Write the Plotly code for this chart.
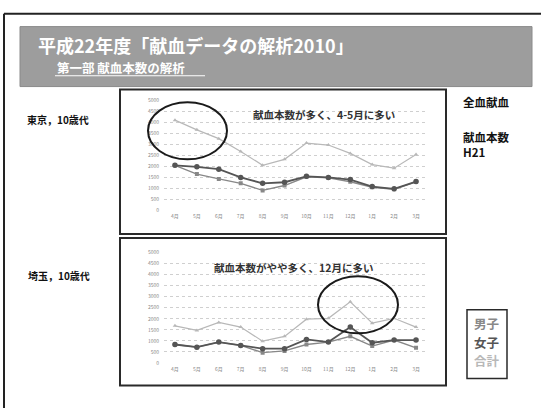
import plotly.graph_objects as go

W, H = 543, 411

months = ["4月", "5月", "6月", "7月", "8月", "9月", "10月", "11月", "12月", "1月", "2月", "3月"]
y_ticks = [0, 500, 1000, 1500, 2000, 2500, 3000, 3500, 4000, 4500, 5000]

# 東京, 10歳代
tokyo_male = [2050, 1650, 1430, 1230, 910, 1130, 1530, 1480, 1300, 1050, 960, 1300]
tokyo_female = [2050, 1980, 1875, 1500, 1230, 1280, 1550, 1500, 1400, 1085, 980, 1310]
tokyo_total = [4100, 3660, 3260, 2680, 2050, 2320, 3060, 2970, 2590, 2080, 1920, 2540]

# 埼玉, 10歳代
saitama_male = [830, 710, 940, 790, 460, 540, 830, 940, 1200, 760, 1030, 680]
saitama_female = [830, 710, 940, 790, 640, 640, 1060, 940, 1620, 910, 1030, 1030]
saitama_total = [1680, 1470, 1830, 1620, 980, 1200, 1980, 2020, 2770, 1800, 2020, 1620]

JP = "Noto Sans CJK JP"
C_MALE = "#888888"
C_FEMALE = "#555555"
C_TOTAL = "#b8b8b8"


def px(x):
    return x / W


def py(y):
    return 1 - y / H


fig = go.Figure()


def add_series(xa, ya, male, female, total):
    fig.add_trace(go.Scatter(x=months, y=total, xaxis=xa, yaxis=ya, mode="lines+markers",
                             line=dict(color=C_TOTAL, width=1.2),
                             marker=dict(symbol="triangle-up", size=4, color=C_TOTAL),
                             showlegend=False))
    fig.add_trace(go.Scatter(x=months, y=male, xaxis=xa, yaxis=ya, mode="lines+markers",
                             line=dict(color=C_MALE, width=1.4),
                             marker=dict(symbol="square", size=4, color=C_MALE),
                             showlegend=False))
    fig.add_trace(go.Scatter(x=months, y=female, xaxis=xa, yaxis=ya, mode="lines+markers",
                             line=dict(color=C_FEMALE, width=1.8),
                             marker=dict(symbol="circle", size=5.5, color=C_FEMALE),
                             showlegend=False))


add_series("x", "y", tokyo_male, tokyo_female, tokyo_total)
add_series("x2", "y2", saitama_male, saitama_female, saitama_total)

xdom = [px(164), px(427)]
yaxis_common = dict(range=[0, 5000], tickvals=y_ticks, showgrid=True, gridcolor="#cfcfcf",
                    griddash="dot", gridwidth=1, zeroline=False, showline=False, ticks="",
                    ticklabelstandoff=4, tickfont=dict(family=JP, size=5, color="#888888"),
                    fixedrange=True)
xaxis_common = dict(type="category", range=[-0.5, 11.5], showgrid=False, zeroline=False,
                    showline=False, ticks="", ticklabelstandoff=2,
                    tickfont=dict(family=JP, size=5, color="#888888"), fixedrange=True)

fig.update_layout(
    width=W, height=H, autosize=False,
    margin=dict(l=0, r=0, t=0, b=0),
    paper_bgcolor="white", plot_bgcolor="rgba(0,0,0,0)",
    xaxis=dict(domain=xdom, anchor="y", **xaxis_common),
    yaxis=dict(domain=[py(210), py(98)], anchor="x", **yaxis_common),
    xaxis2=dict(domain=xdom, anchor="y2", **xaxis_common),
    yaxis2=dict(domain=[py(365), py(253)], anchor="x2", **yaxis_common),
)

shapes = []
# outer frame
shapes.append(dict(type="line", xref="paper", yref="paper", x0=px(4), x1=px(4), y0=py(10), y1=py(411),
                   line=dict(color="#222", width=2)))
shapes.append(dict(type="line", xref="paper", yref="paper", x0=px(4), x1=px(541), y0=py(10), y1=py(10),
                   line=dict(color="#222", width=2)))
# title banner
shapes.append(dict(type="rect", xref="paper", yref="paper", x0=px(20), x1=px(532), y0=py(84), y1=py(23),
                   fillcolor="#9d9d9d", line=dict(color="#8a8a8a", width=1), layer="below"))
# subtitle underline
shapes.append(dict(type="line", xref="paper", yref="paper", x0=px(55), x1=px(205), y0=py(73), y1=py(73),
                   line=dict(color="white", width=1)))
# chart boxes
for (t, b) in [(87, 234), (238, 388)]:
    shapes.append(dict(type="rect", xref="paper", yref="paper", x0=px(120), x1=px(446), y0=py(b), y1=py(t),
                       line=dict(color="#2a2a2a", width=2), layer="below"))
# highlight ellipses
shapes.append(dict(type="circle", xref="paper", yref="paper", x0=px(148), x1=px(227), y0=py(158), y1=py(100),
                   line=dict(color="#1a1a1a", width=2)))
shapes.append(dict(type="circle", xref="paper", yref="paper", x0=px(318), x1=px(398), y0=py(335), y1=py(277),
                   line=dict(color="#1a1a1a", width=2)))
# legend box
shapes.append(dict(type="rect", xref="paper", yref="paper", x0=px(467), x1=px(507), y0=py(381), y1=py(311),
                   line=dict(color="#2a2a2a", width=1.5)))

annotations = []


def text(x, y, s, size, color="#111", xanchor="left", bold=True):
    annotations.append(dict(xref="paper", yref="paper", x=px(x), y=py(y), text=f"<b>{s}</b>" if bold else s,
                            showarrow=False, xanchor=xanchor, yanchor="middle", align="left",
                            font=dict(family=JP, size=size, color=color)))


text(36, 42, "平成22年度「献血データの解析2010」", 18, color="white")
text(55, 65, "第一部 献血本数の解析", 12.5, color="white")
text(25, 117, "東京，10歳代", 10)
text(26, 276, "埼玉，10歳代", 10)
text(324, 112, "献血本数が多く、4-5月に多い", 10.5, color="#333", xanchor="center")
text(293, 268, "献血本数がやや多く、12月に多い", 10.5, color="#333", xanchor="center")
text(461, 100, "全血献血", 11.5)
text(461, 143, "献血本数<br>H21", 11.5)
text(487, 325, "男子", 12.5, color=C_MALE, xanchor="center")
text(487, 344, "女子", 12.5, color=C_FEMALE, xanchor="center")
text(487, 363, "合計", 12.5, color=C_TOTAL, xanchor="center")

fig.update_layout(shapes=shapes, annotations=annotations)

fig.write_html("out.html")
